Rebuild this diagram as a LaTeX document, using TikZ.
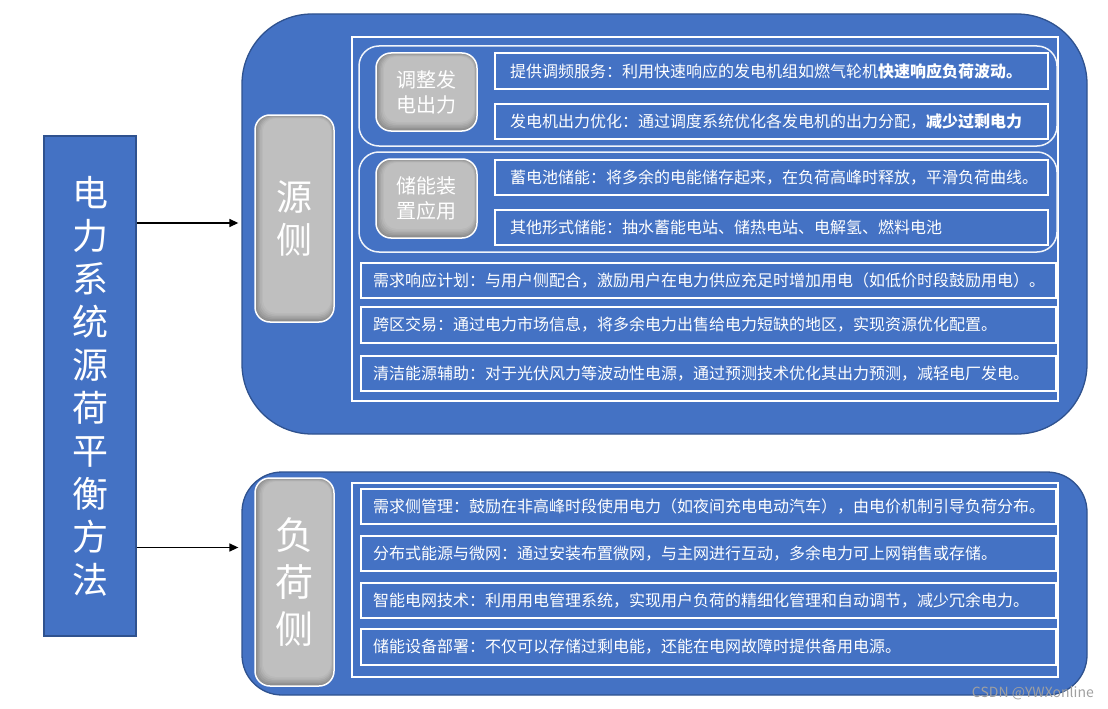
\documentclass[tikz,border=0pt]{standalone}
\usepackage{fontspec}
\setmainfont{Noto Sans CJK SC}
\usetikzlibrary{arrows.meta}
\definecolor{mblue}{HTML}{4472C4}
\definecolor{dblue}{HTML}{2F528F}
\definecolor{lgray}{HTML}{BFBFBF}
\definecolor{sgray}{HTML}{7A7A7A}
\definecolor{wmark}{HTML}{A0A0A0}
\begin{document}
\begin{tikzpicture}[x=1pt,y=-1pt,
  bigbox/.style={draw=dblue,line width=1.3pt,fill=mblue,inner sep=0pt},
  framebox/.style={draw=white,line width=1.5pt,inner sep=0pt},
  groupbox/.style={draw=white!92!mblue,line width=1.5pt,rounded corners=20pt,inner sep=0pt},
  graybox/.style={draw=white,line width=1.5pt,fill=lgray,rounded corners=15pt,inner sep=0pt,text=white,align=center,
    path picture={
      \foreach \k/\c in {0/20,1/35,2/50,3/65,4/80,5/92,6/100}{
        \fill[lgray!\c!sgray,rounded corners=13pt]
          ([xshift=\k*1.3pt,yshift=\k*1.5pt]path picture bounding box.south west)
          rectangle ([xshift=-\k*0.5pt,yshift=-\k*0.6pt]path picture bounding box.north east);
      }
    }},
  itemA/.style={draw=white,line width=2pt,inner ysep=0pt,inner xsep=15pt,text width=523pt,minimum width=553pt,align=left,text=white,font=\fontsize{16}{19}\selectfont},
  itemB/.style={draw=white,line width=2pt,inner ysep=0pt,inner xsep=12pt,text width=671pt,minimum width=695pt,align=left,text=white,font=\fontsize{16}{19}\selectfont},
  arr/.style={draw=black,line width=1.4pt,-{Triangle[length=9pt,width=8pt]}}
]
\useasboundingbox (0,0) rectangle (1108,709);

% main title box
\node[bigbox,minimum width=92pt,minimum height=500pt,text=white,align=center,
  font=\fontsize{36}{43}\selectfont] (main) at (90,386)
  {电\\力\\系\\统\\源\\荷\\平\\衡\\方\\法};

% big boxes
\node[bigbox,rounded corners=70pt,minimum width=845pt,minimum height=420pt] (upper) at (664.5,224) {};
\node[bigbox,rounded corners=40pt,minimum width=845pt,minimum height=223pt] (lower) at (664.5,583.5) {};

% arrows
\coordinate (a1) at ([yshift=1pt,xshift=-3pt]upper.west);
\coordinate (a2) at ([yshift=36pt,xshift=-3pt]lower.west);
\draw[arr] (main.east |- a1) -- (a1);
\draw[arr] (main.east |- a2) -- (a2);

% side labels
\node[graybox,minimum width=79pt,minimum height=207pt,font=\fontsize{36}{43}\selectfont] (src) at (294.5,218.5) {源\\侧};
\node[graybox,minimum width=79pt,minimum height=208pt,font=\fontsize{38}{47}\selectfont] (load) at (294.5,582) {负\\荷\\侧};

% upper frame
\node[framebox,minimum width=706pt,minimum height=364pt] (uframe) at (705,219) {};
\node[groupbox,minimum width=698pt,minimum height=100pt] (g1) at (708,96) {};
\node[groupbox,minimum width=698pt,minimum height=100pt] (g2) at (708,202) {};
\node[graybox,minimum width=101pt,minimum height=78pt,font=\fontsize{20}{25}\selectfont] (gb1) at (426.5,92) {调整发\\电出力};
\node[graybox,minimum width=101pt,minimum height=79pt,font=\fontsize{20}{25}\selectfont] (gb2) at (426.5,198.5) {储能装\\置应用};

\node[itemA,minimum height=36pt] (i1) at (771.5,71) {提供调频服务：利用快速响应的发电机组如燃气轮机\textbf{快速响应负荷波动。}};
\node[itemA,minimum height=35pt] (i2) at (771.5,121.5) {发电机出力优化：通过调度系统优化各发电机的出力分配，\textbf{减少过剩电力}};
\node[itemA,minimum height=35pt] (i3) at (771.5,177.5) {蓄电池储能：将多余的电能储存起来，在负荷高峰时释放，平滑负荷曲线。};
\node[itemA,minimum height=35pt] (i4) at (771.5,227.5) {其他形式储能：抽水蓄能电站、储热电站、电解氢、燃料电池};

\node[itemB,minimum height=35pt] (i5) at (708.5,280.5) {需求响应计划：与用户侧配合，激励用户在电力供应充足时增加用电（如低价时段鼓励用电）。};
\node[itemB,minimum height=36pt] (i6) at (708.5,325) {跨区交易：通过电力市场信息，将多余电力出售给电力短缺的地区，实现资源优化配置。};
\node[itemB,minimum height=35pt] (i7) at (708.5,373.5) {清洁能源辅助：对于光伏风力等波动性电源，通过预测技术优化其出力预测，减轻电厂发电。};

% lower frame
\node[framebox,minimum width=706pt,minimum height=194pt] (lframe) at (705,580) {};
\node[itemB,minimum height=35pt] (i8) at (708.5,506.5) {需求侧管理：鼓励在非高峰时段使用电力（如夜间充电电动汽车），由电价机制引导负荷分布。};
\node[itemB,minimum height=35pt] (i9) at (708.5,553.5) {分布式能源与微网：通过安装布置微网，与主网进行互动，多余电力可上网销售或存储。};
\node[itemB,minimum height=35pt] (i10) at (708.5,600.5) {智能电网技术：利用用电管理系统，实现用户负荷的精细化管理和自动调节，减少冗余电力。};
\node[itemB,minimum height=36pt] (i11) at (708.5,647) {储能设备部署：不仅可以存储过剩电能，还能在电网故障时提供备用电源。};

% watermark
\node[anchor=east,text=wmark,inner sep=0pt,font=\fontsize{14}{16}\selectfont] (wm) at (1094,693) {CSDN @YWXonline};
\end{tikzpicture}
\end{document}
